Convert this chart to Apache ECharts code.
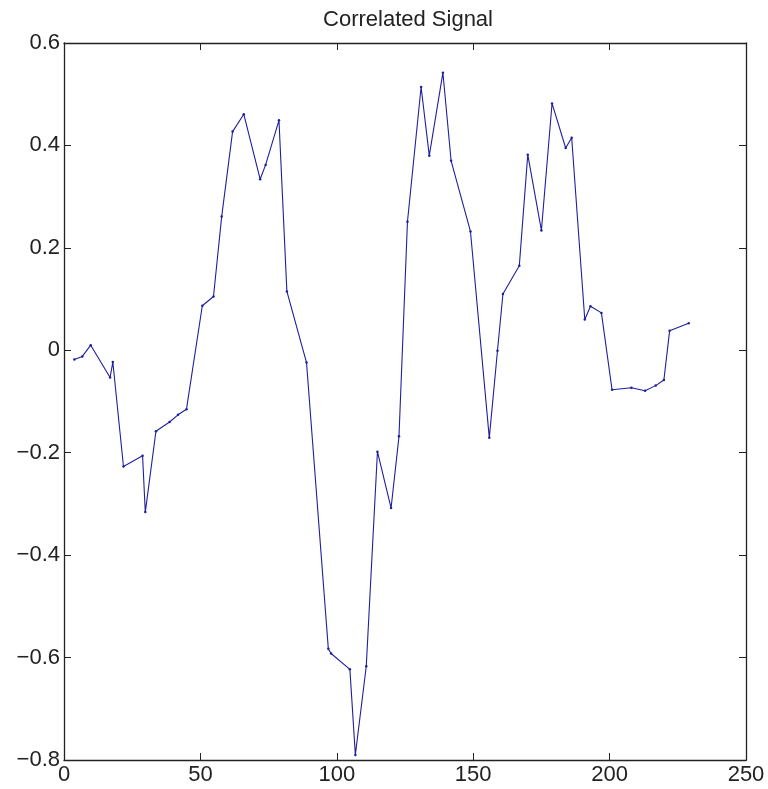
<!DOCTYPE html>
<html>
<head>
<meta charset="utf-8">
<script src="https://cdn.jsdelivr.net/npm/echarts@6/dist/echarts.min.js"></script>
<style>
  html, body { margin: 0; padding: 0; background: #fff; }
  #chart { width: 768px; height: 789px; }
</style>
</head>
<body>
<div id="chart"></div>
<script>
// Sample positions along the signal
const sampleX = [
  3.8, 6.7, 9.8, 16.9, 17.9, 21.8, 28.8, 29.8, 33.7, 38.7,
  41.8, 44.9, 50.7, 54.8, 57.8, 61.8, 65.9, 71.9, 73.9, 78.8,
  81.7, 88.9, 96.9, 97.9, 104.8, 106.8, 110.8, 114.9, 119.9, 122.8,
  125.9, 130.9, 133.9, 138.9, 141.9, 149.0, 155.9, 158.9, 160.9, 166.9,
  170.0, 175.0, 178.9, 183.9, 186.1, 190.9, 193.0, 197.0, 200.9, 208.0,
  213.0, 216.9, 219.9, 222.0, 229.0
];
// Correlated signal amplitude at each sample
const signalY = [
  -0.018, -0.012, 0.010, -0.053, -0.023, -0.227, -0.206, -0.316, -0.158, -0.140,
  -0.126, -0.115, 0.087, 0.105, 0.261, 0.427, 0.461, 0.334, 0.362, 0.449,
  0.115, -0.024, -0.583, -0.592, -0.623, -0.790, -0.617, -0.198, -0.308, -0.168,
  0.251, 0.514, 0.380, 0.542, 0.370, 0.232, -0.171, -0.001, 0.110, 0.165,
  0.382, 0.234, 0.482, 0.395, 0.415, 0.060, 0.086, 0.073, -0.077, -0.073,
  -0.079, -0.069, -0.058, 0.038, 0.053
];
const titleText = 'Correlated Signal';

const points = sampleX.map((x, i) => [x, signalY[i]]);

const chart = echarts.init(document.getElementById('chart'));
const axisLine = { show: true, onZero: false, lineStyle: { color: '#222', width: 1.3 } };
const tickIn = { show: true, inside: true, length: 7, lineStyle: { color: '#222', width: 1 } };
const font = 'Liberation Sans, Arial, Helvetica, sans-serif';

// Tick labels use a true minus sign
const fmtY = v => (Math.abs(v) < 1e-9 ? '0' : v.toFixed(1).replace('-', '\u2212'));

chart.setOption({
  animation: false,
  backgroundColor: '#fff',
  title: {
    text: titleText,
    left: 403,
    textAlign: 'center',
    top: 4,
    textStyle: { fontFamily: font, fontSize: 22, fontWeight: 'normal', color: '#222' }
  },
  grid: { left: 64, right: 22, top: 43, bottom: 29, containLabel: false },
  xAxis: [
    {
      type: 'value', min: 0, max: 250, interval: 50, position: 'bottom',
      axisLine: axisLine, axisTick: tickIn, splitLine: { show: false },
      axisLabel: { fontFamily: font, fontSize: 22, color: '#222', margin: 4 }
    },
    {
      type: 'value', min: 0, max: 250, interval: 50, position: 'top',
      axisLine: axisLine, axisTick: tickIn, splitLine: { show: false },
      axisLabel: { show: false }
    }
  ],
  yAxis: [
    {
      type: 'value', min: -0.8, max: 0.6, interval: 0.2, position: 'left',
      axisLine: axisLine, axisTick: tickIn, splitLine: { show: false },
      axisLabel: { fontFamily: font, fontSize: 22, color: '#222', margin: 4, formatter: fmtY }
    },
    {
      type: 'value', min: -0.8, max: 0.6, interval: 0.2, position: 'right',
      axisLine: axisLine, axisTick: tickIn, splitLine: { show: false },
      axisLabel: { show: false }
    }
  ],
  series: [
    {
      type: 'line',
      data: points,
      xAxisIndex: 0,
      yAxisIndex: 0,
      symbol: 'circle',
      symbolSize: 2.5,
      showSymbol: true,
      itemStyle: { color: '#1f1f9e' },
      lineStyle: { color: '#1f1f9e', width: 1.1 }
    }
  ]
});
</script>
</body>
</html>
